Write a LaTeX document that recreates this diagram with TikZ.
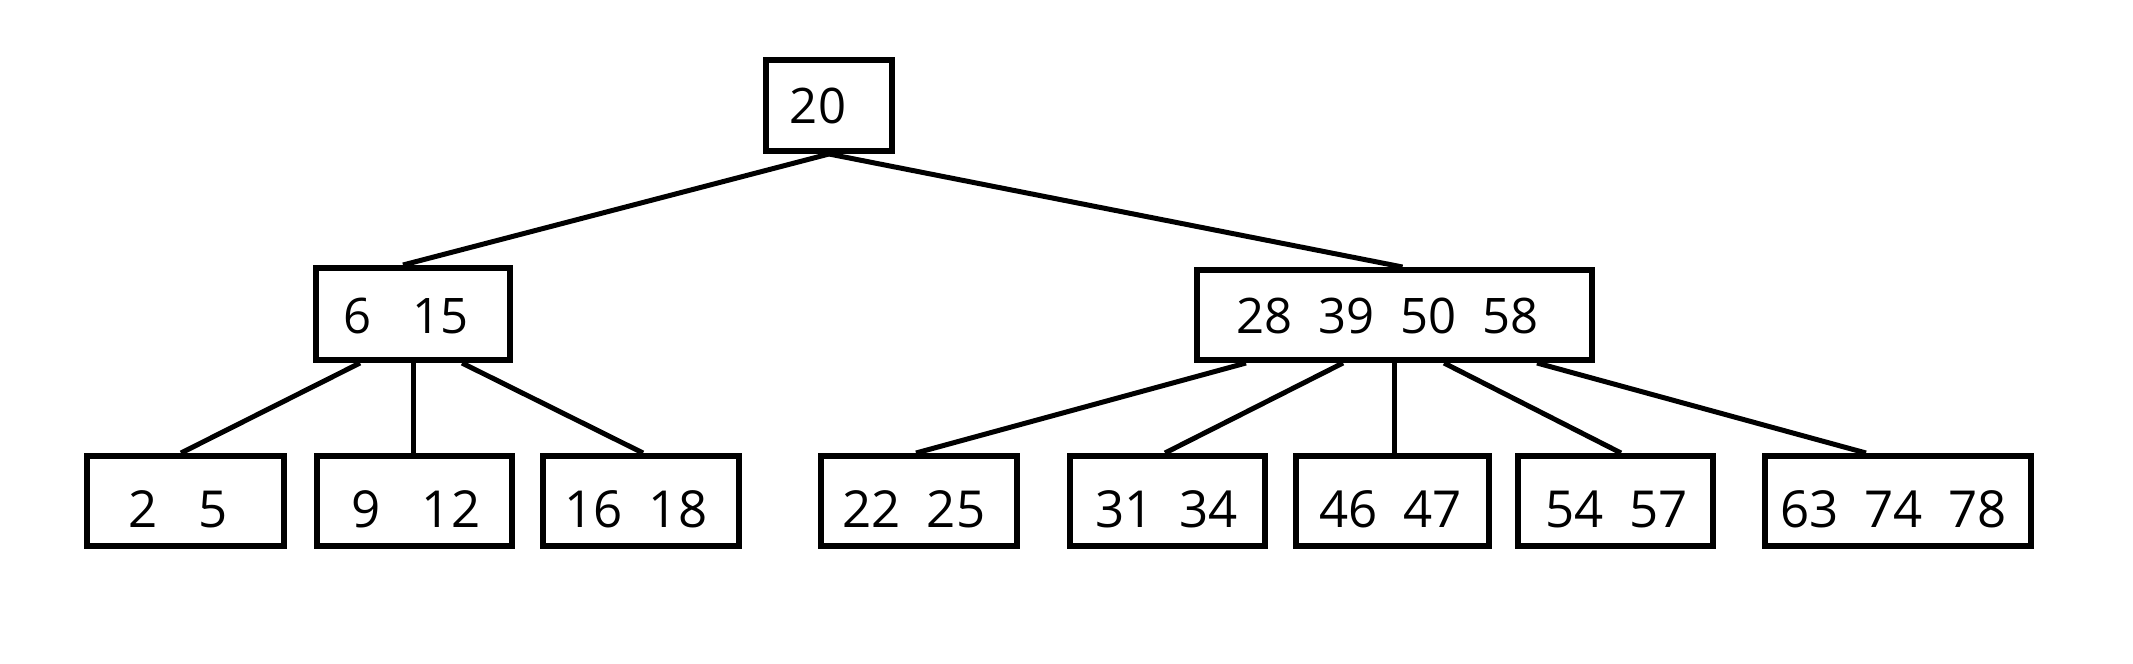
\documentclass[tikz,border=0pt]{standalone}
\usepackage{fontspec}
\setmainfont{Open Sans}
\begin{document}
\begin{tikzpicture}[x=0.5pt,y=-0.5pt,
  keybox/.style={draw=black,line width=2.9pt,minimum height=45.1pt,inner sep=0pt},
  keytxt/.style={inner sep=0pt,anchor=base,font=\fontsize{24.5pt}{28pt}\selectfont},
  leaftxt/.style={inner sep=0pt,anchor=base,font=\fontsize{25.5pt}{29pt}\selectfont},
  link/.style={draw=black,line width=2.5pt}]
\useasboundingbox[fill=white] (0,0) rectangle (2133,664);
% boxes
\node[keybox,minimum width=63.1pt,minimum height=45.6pt] (r) at (829,105.5) {};
\node[keybox,minimum width=97.1pt,minimum height=46.1pt] (m1) at (413,314) {};
\node[keybox,minimum width=197.6pt] (m2) at (1394.5,315) {};
\node[keybox,minimum width=98.6pt] (l1) at (185.5,501) {};
\node[keybox,minimum width=97.6pt] (l2) at (414.5,501) {};
\node[keybox,minimum width=98.1pt] (l3) at (641,501) {};
\node[keybox,minimum width=98.1pt] (l4) at (919,501) {};
\node[keybox,minimum width=97.6pt] (l5) at (1167.5,501) {};
\node[keybox,minimum width=96.6pt] (l6) at (1392.5,501) {};
\node[keybox,minimum width=97.6pt] (l7) at (1615.5,501) {};
\node[keybox,minimum width=133.1pt] (l8) at (1898,501) {};
% texts
\node[keytxt] (t0) at (818,123) {20};
\node[keytxt] (t1) at (406,333) {6\hspace{20.5pt}15};
\node[keytxt] (t2) at (1387.5,333) {28\hspace{13pt}39\hspace{13pt}50\hspace{13pt}58};
\node[leaftxt] (t3) at (178,527) {2\hspace{20.5pt}5};
\node[leaftxt] (t4) at (416,527) {9\hspace{20.5pt}12};
\node[leaftxt] (t5) at (636,527) {16\hspace{13pt}18};
\node[leaftxt] (t6) at (914,527) {22\hspace{13pt}25};
\node[leaftxt] (t7) at (1166.5,527) {31\hspace{13pt}34};
\node[leaftxt] (t8) at (1390.5,527) {46\hspace{13pt}47};
\node[leaftxt] (t9) at (1616.5,527) {54\hspace{13pt}57};
\node[leaftxt] (t10) at (1893.5,527) {63\hspace{13pt}74\hspace{13pt}78};
% links
\draw[link] (r.south) -- ([xshift=-5pt]m1.north);
\draw[link] (r.south) -- ([xshift=4pt]m2.north);
\draw[link] ([xshift=-26.5pt]m1.south) -- ([xshift=-2.25pt]l1.north);
\draw[link] (m1.south) -- ([xshift=-0.75pt]l2.north);
\draw[link] ([xshift=24.5pt]m1.south) -- ([xshift=1pt]l3.north);
\draw[link] ([xshift=-74.25pt]m2.south) -- ([xshift=-1.5pt]l4.north);
\draw[link] ([xshift=-25.75pt]m2.south) -- ([xshift=-1.25pt]l5.north);
\draw[link] (m2.south) -- ([xshift=1pt]l6.north);
\draw[link] ([xshift=24.75pt]m2.south) -- ([xshift=2.75pt]l7.north);
\draw[link] ([xshift=71.25pt]m2.south) -- ([xshift=-16pt]l8.north);
\end{tikzpicture}
\end{document}
